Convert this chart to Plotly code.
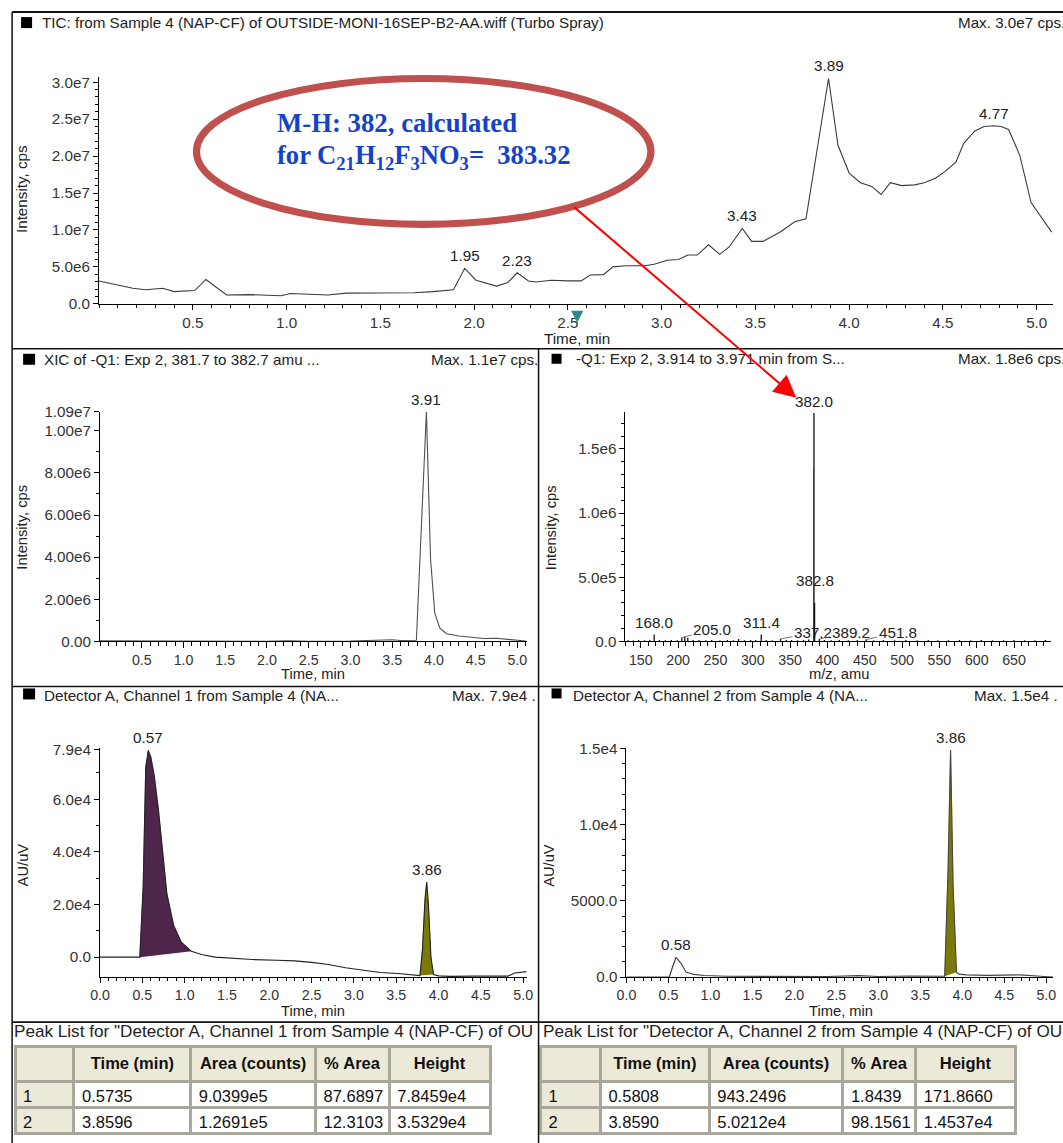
import plotly.graph_objects as go

# Page geometry: the captured page area includes the 8 px body margin, so positions
# below are given in target-picture pixels and mapped onto the figure.
PAGE_W, PAGE_H, OFF = 1063, 1143, 8
SX = (PAGE_W + 2 * OFF) / PAGE_W
SY = (PAGE_H + 2 * OFF) / PAGE_H
K = (SX + SY) / 2            # pixel-size factor
W = round(PAGE_W * SX - OFF)
H = round(PAGE_H * SY - OFF)
def PX(x): return (x * SX - OFF) / W
def PY(y): return 1 - (y * SY - OFF) / H
def clamp(v): return min(1.0, max(0.0, v))
def k(v): return v * K

FONT = "Liberation Sans, Arial, sans-serif"
SERIF = "Liberation Serif, Times New Roman, serif"

# ---------------- data ----------------
# TIC (time, min ; intensity, cps)
tic_time = [0.00, 0.18, 0.25, 0.34, 0.40, 0.51, 0.57, 0.68, 0.80, 0.97, 1.02, 1.13, 1.22, 1.32,
            1.50, 1.68, 1.78, 1.89, 1.95, 2.01, 2.12, 2.18, 2.23, 2.29, 2.33, 2.41, 2.50, 2.57,
            2.62, 2.69, 2.74, 2.81, 2.91, 2.96, 3.03, 3.09, 3.14, 3.19, 3.25, 3.31, 3.36, 3.43,
            3.48, 3.54, 3.63, 3.71, 3.77, 3.89, 3.94, 4.00, 4.06, 4.12, 4.17, 4.22, 4.28, 4.35,
            4.40, 4.46, 4.51, 4.57, 4.61, 4.67, 4.72, 4.77, 4.81, 4.85, 4.91, 4.97, 5.08]
tic_int_e6 = [3.1, 2.1, 1.9, 2.1, 1.65, 1.8, 3.3, 1.2, 1.25, 1.1, 1.4, 1.3, 1.2, 1.45,
              1.45, 1.5, 1.65, 1.9, 4.8, 3.2, 2.4, 2.9, 4.2, 3.1, 2.95, 3.2, 3.1, 3.1,
              3.9, 3.95, 5.0, 5.15, 5.15, 5.35, 5.9, 6.0, 6.6, 6.6, 8.0, 6.7, 7.7, 10.2,
              8.45, 8.45, 9.7, 11.1, 11.5, 30.5, 21.5, 17.7, 16.4, 15.9, 14.8, 16.4, 16.0, 16.1,
              16.4, 17.0, 17.9, 19.2, 21.7, 23.4, 24.0, 24.1, 24.0, 23.6, 20.1, 13.7, 9.7]
tic_int = [v * 1e6 for v in tic_int_e6]
tic_peaks = [1.95, 2.23, 3.43, 3.89, 4.77]
tic_xticks = [0.5, 1.0, 1.5, 2.0, 2.5, 3.0, 3.5, 4.0, 4.5, 5.0]
tic_yticks = [0, 5e6, 1e7, 1.5e7, 2e7, 2.5e7, 3e7]
tic_yticktext = ["0.0", "5.0e6", "1.0e7", "1.5e7", "2.0e7", "2.5e7", "3.0e7"]

# XIC 381.7-382.7
xic_time = [0.0, 0.5, 1.0, 1.5, 2.0, 2.25, 2.5, 3.0, 3.2, 3.5, 3.6, 3.79, 3.91, 3.96, 4.01,
            4.07, 4.15, 4.3, 4.45, 4.6, 4.75, 4.9, 5.1]
xic_int_e6 = [0.03, 0.02, 0.01, 0.01, 0.01, 0.03, 0.01, 0.02, 0.04, 0.08, 0.05, 0.06, 10.9,
              3.9, 1.36, 0.64, 0.37, 0.26, 0.2, 0.14, 0.15, 0.1, 0.02]
xic_int = [v * 1e6 for v in xic_int_e6]
xic_peaks = [3.91]
xic_xticks = [0.5, 1.0, 1.5, 2.0, 2.5, 3.0, 3.5, 4.0, 4.5, 5.0]
xic_yticks = [0, 2e6, 4e6, 6e6, 8e6, 1e7, 1.09e7]
xic_yticktext = ["0.00", "2.00e6", "4.00e6", "6.00e6", "8.00e6", "1.00e7", "1.09e7"]

# Q1 spectrum (centroids)
ms_mz = [133, 140, 147, 155, 162, 168.0, 175, 183, 191, 199, 205.0, 209, 213, 220, 228, 237,
         245, 256, 266, 274, 281, 289, 297, 304, 311.4, 318, 326, 337.2, 345, 352, 360, 368,
         375, 382.0, 382.8, 389.2, 396, 405, 416, 428, 440, 451.8, 462, 475, 490, 505, 520,
         535, 548, 562, 577, 592, 606, 621, 636, 650, 664, 678, 692]
ms_int_e6 = [0.010, 0.008, 0.012, 0.010, 0.012, 0.055, 0.012, 0.010, 0.012, 0.010, 0.030,
             0.035, 0.030, 0.012, 0.012, 0.010, 0.012, 0.010, 0.012, 0.010, 0.020, 0.010,
             0.012, 0.012, 0.055, 0.012, 0.010, 0.020, 0.012, 0.012, 0.010, 0.012, 0.015,
             1.78, 0.30, 0.020, 0.012, 0.010, 0.012, 0.010, 0.012, 0.015, 0.010, 0.012, 0.010,
             0.012, 0.010, 0.012, 0.010, 0.010, 0.012, 0.010, 0.012, 0.010, 0.010, 0.012,
             0.010, 0.010, 0.012]
ms_int = [v * 1e6 for v in ms_int_e6]
ms_profile_mz = [381.6]
ms_profile_int = [1.35e6]
ms_labels = [382.0, 382.8, 168.0, 205.0, 311.4, 337.2, 389.2, 451.8]
ms_xticks = [150, 200, 250, 300, 350, 400, 450, 500, 550, 600, 650]
ms_yticks = [0, 5e5, 1e6, 1.5e6]
ms_yticktext = ["0.0", "5.0e5", "1.0e6", "1.5e6"]

# Detector A channel 1
ch1_time = [0.00, 0.20, 0.40, 0.47, 0.51, 0.54, 0.57, 0.60, 0.64, 0.69, 0.74, 0.79, 0.87, 0.96,
            1.08, 1.20, 1.36, 1.60, 1.80, 2.09, 2.30, 2.50, 2.70, 2.90, 3.10, 3.31, 3.52,
            3.70, 3.78, 3.81, 3.84, 3.86, 3.88, 3.91, 3.94, 4.00, 4.13, 4.40, 4.60, 4.82,
            4.90, 5.04]
ch1_au_e4 = [0.0, 0.0, 0.0, 0.0, 2.7, 7.2, 7.85, 7.6, 6.9, 5.6, 4.0, 2.4, 1.2, 0.57,
             0.22, 0.10, 0.0, -0.05, -0.09, -0.12, -0.14, -0.20, -0.28, -0.40, -0.50, -0.58, -0.62,
             -0.68, -0.70, 0.30, 2.2, 2.85, 2.0, 0.0, -0.66, -0.71, -0.73, -0.72, -0.72, -0.72,
             -0.60, -0.55]
ch1_au = [v * 1e4 for v in ch1_au_e4]
ch1_peaks = [0.57, 3.86]
ch1_fill_ranges = [(0.47, 1.08), (3.78, 3.94)]
ch1_xticks = [0.0, 0.5, 1.0, 1.5, 2.0, 2.5, 3.0, 3.5, 4.0, 4.5, 5.0]
ch1_yticks = [0, 2e4, 4e4, 6e4, 7.9e4]
ch1_yticktext = ["0.0", "2.0e4", "4.0e4", "6.0e4", "7.9e4"]

# Detector A channel 2
ch2_time = [0.0, 0.30, 0.51, 0.55, 0.59, 0.65, 0.71, 0.80, 0.93, 1.20, 1.60, 2.00, 2.40, 2.77,
            3.00, 3.37, 3.60, 3.79, 3.83, 3.86, 3.89, 3.93, 3.96, 4.05, 4.30, 4.69, 4.93, 5.08]
ch2_au = [0, 0, 0, 700, 1300, 900, 330, 180, 110, 60, 40, 40, 40, 100,
          40, 80, 60, 60, 7000, 14900, 6000, 330, 200, 150, 120, 150, 60, 0]
ch2_peaks = [0.59, 3.86]
ch2_peak_text = ["0.58", "3.86"]
ch2_fill_ranges = [(0.51, 0.59), (3.79, 3.93)]
ch2_xticks = [0.0, 0.5, 1.0, 1.5, 2.0, 2.5, 3.0, 3.5, 4.0, 4.5, 5.0]
ch2_yticks = [0, 5000, 1e4, 1.5e4]
ch2_yticktext = ["0.0", "5000.0", "1.0e4", "1.5e4"]

# Peak tables
tbl_header = ["", "Time (min)", "Area (counts)", "% Area", "Height"]
tbl1_rows = [["1", "0.5735", "9.0399e5", "87.6897", "7.8459e4"],
             ["2", "3.8596", "1.2691e5", "12.3103", "3.5329e4"]]
tbl2_rows = [["1", "0.5808", "943.2496", "1.8439", "171.8660"],
             ["2", "3.8590", "5.0212e4", "98.1561", "1.4537e4"]]

# ---------------- figure ----------------
LINE = "#3a3a3a"
PURPLE = "#4f264b"
OLIVE = "#7b7a08"
FS = k(15)
FX = k(14)
fig = go.Figure()

def line_trace(x, y, xa, ya, color=LINE, width=1.1):
    fig.add_trace(go.Scatter(x=x, y=y, mode="lines", xaxis=xa, yaxis=ya,
                             line=dict(color=color, width=width), hoverinfo="skip",
                             showlegend=False))

def fill_trace(x, y, lo, hi, xa, ya, color):
    xs = [t for t in x if lo - 1e-9 <= t <= hi + 1e-9]
    ys = [v for t, v in zip(x, y) if lo - 1e-9 <= t <= hi + 1e-9]
    fig.add_trace(go.Scatter(x=xs, y=ys, mode="lines", fill="toself", fillcolor=color,
                             line=dict(color=color, width=0.5), xaxis=xa, yaxis=ya,
                             hoverinfo="skip", showlegend=False))

def stems(xs, ys):
    X, Y = [], []
    for a, b in zip(xs, ys):
        X += [a, a, None]
        Y += [0, b, None]
    return X, Y

line_trace(tic_time, tic_int, "x", "y")
line_trace(xic_time, xic_int, "x2", "y2", color="#505050")
sx, sy = stems(ms_profile_mz, ms_profile_int)
line_trace(sx, sy, "x3", "y3", color="#9a9a9a", width=1)
sx, sy = stems(ms_mz, ms_int)
line_trace(sx, sy, "x3", "y3", color="#111111", width=1.3)
for lo, hi in ch1_fill_ranges:
    fill_trace(ch1_time, ch1_au, lo, hi, "x4", "y4", PURPLE if lo < 2 else OLIVE)
line_trace(ch1_time, ch1_au, "x4", "y4", color="#222222")
for lo, hi in ch2_fill_ranges:
    fill_trace(ch2_time, ch2_au, lo, hi, "x5", "y5", PURPLE if lo < 2 else OLIVE)
line_trace(ch2_time, ch2_au, "x5", "y5", color="#444444")

NBSP = "\u00a0"
def add_table(rows, x0, x1, widths):
    cols = list(map(list, zip(*rows)))
    fills = [["#ece9d8"] * len(rows)] + [["white"] * len(rows)] * (len(cols) - 1)
    fig.add_trace(go.Table(
        domain=dict(x=[clamp(PX(x0)), clamp(PX(x1))], y=[clamp(PY(1136)), clamp(PY(1046))]),
        columnwidth=widths,
        header=dict(values=["<b>%s</b>" % h.replace(" ", NBSP) if h else NBSP for h in tbl_header],
                    fill_color="#ece9d8", line=dict(color="#a9a79b", width=3),
                    align="center", height=k(34),
                    font=dict(family=FONT, size=k(16.3), color="#111")),
        cells=dict(values=cols, fill_color=fills, line=dict(color="#a9a79b", width=3),
                   align="left", height=k(26), font=dict(family=FONT, size=k(16.3), color="#111"))))

add_table(tbl1_rows, 13, 489, [59, 117, 125, 74, 101])
add_table(tbl2_rows, 539, 1015, [60, 109, 134, 73, 100])

# ---------------- axes ----------------
def axis_common(tickvals, ticktext, minor_dtick, size):
    return dict(showline=True, linecolor="black", linewidth=1, mirror=False,
                ticks="outside", ticklen=k(5), tickwidth=1, tickcolor="black",
                tickmode="array", tickvals=tickvals, ticktext=ticktext,
                tickfont=dict(family=FONT, size=size, color="#333"),
                minor=dict(ticks="outside", ticklen=k(3), tickwidth=1, tickcolor="black",
                           tickmode="linear", tick0=0, dtick=minor_dtick, showgrid=False),
                showgrid=False, zeroline=False, fixedrange=True)

def xaxis(x0, x1, rng, anchor, tv, tt, md, size=FX):
    d = axis_common(tv, tt, md, size)
    d.update(domain=[clamp(PX(x0)), clamp(PX(x1))], range=rng, anchor=anchor)
    return d

def yaxis(ybot, ytop, rng, anchor, tv, tt, md, size=FS):
    d = axis_common(tv, tt, md, size)
    d.update(domain=[clamp(PY(ybot)), clamp(PY(ytop))], range=rng, anchor=anchor)
    return d

fmt1 = lambda v: "%.1f" % v
fig.update_layout(
    xaxis=xaxis(97, 1052, [0, 5.087], "y", tic_xticks, [fmt1(v) for v in tic_xticks], 0.1, FS),
    yaxis=yaxis(303, 76, [0, 3.07e7], "x", tic_yticks, tic_yticktext, 1e6),
    xaxis2=xaxis(98, 525, [0, 5.11], "y2", xic_xticks, [fmt1(v) for v in xic_xticks], 0.1),
    yaxis2=yaxis(641, 411, [0, 1.09e7], "x2", xic_yticks, xic_yticktext, 1e6),
    xaxis3=xaxis(624, 1050, [129.5, 699.5], "y3", ms_xticks, [str(v) for v in ms_xticks], 10),
    yaxis3=yaxis(641, 411, [0, 1.79e6], "x3", ms_yticks, ms_yticktext, 1e5),
    xaxis4=xaxis(98, 525, [0, 5.04], "y4", ch1_xticks, [fmt1(v) for v in ch1_xticks], 0.1),
    yaxis4=yaxis(977, 748, [-0.76e4, 7.93e4], "x4", ch1_yticks, ch1_yticktext, 1e4),
    xaxis5=xaxis(625, 1052, [0, 5.08], "y5", ch2_xticks, [fmt1(v) for v in ch2_xticks], 0.1),
    yaxis5=yaxis(977, 748, [0, 1.5e4], "x5", ch2_yticks, ch2_yticktext, 1000),
)

# ---------------- annotations ----------------
ann = []
def text(x, y, s, size=FS, xanchor="left", yanchor="middle", angle=0, color="#222", family=FONT):
    ann.append(dict(x=PX(x), y=PY(y), xref="paper", yref="paper", text=s, showarrow=False,
                    xanchor=xanchor, yanchor=yanchor, textangle=angle,
                    font=dict(family=family, size=size, color=color)))

# panel titles
text(38, 21, "TIC: from Sample 4 (NAP-CF) of OUTSIDE-MONI-16SEP-B2-AA.wiff (Turbo Spray)")
text(1066, 21, "Max. 3.0e7 cps.", xanchor="right")
text(40, 359, "XIC of -Q1: Exp 2, 381.7 to 382.7 amu ...")
text(538, 359, "Max. 1.1e7 cps.", xanchor="right")
text(572, 358, "-Q1: Exp 2, 3.914 to 3.971 min from S...")
text(1066, 358, "Max. 1.8e6 cps.", xanchor="right")
text(40, 695, "Detector A, Channel 1 from Sample 4 (NA...")
text(536, 695, "Max. 7.9e4 .", xanchor="right")
text(569, 695, "Detector A, Channel 2 from Sample 4 (NA...")
text(1059, 695, "Max. 1.5e4 .", xanchor="right")
text(10, 1031, 'Peak List for "Detector A, Channel 1 from Sample 4 (NAP-CF) of OU', size=k(16.9))
text(539, 1031, 'Peak List for "Detector A, Channel 2 from Sample 4 (NAP-CF) of OU', size=k(16.9))

# axis titles
text(20, 188, "Intensity, cps", angle=-90, xanchor="center")
text(575, 338, "Time, min", xanchor="center")
text(19, 527, "Intensity, cps", angle=-90, xanchor="center", size=k(14.5))
text(311, 674, "Time, min", xanchor="center", size=k(14.5))
text(549, 527, "Intensity, cps", angle=-90, xanchor="center", size=k(14.5))
text(838, 674, "m/z, amu", xanchor="center", size=k(14.5))
text(21, 865, "AU/uV", angle=-90, xanchor="center", size=k(14.5))
text(311, 1011, "Time, min", xanchor="center", size=k(14.5))
text(548, 865, "AU/uV", angle=-90, xanchor="center", size=k(14.5))
text(840, 1011, "Time, min", xanchor="center", size=k(14.5))

def peak_label(x, y, s, xa, ya, yshift=2, ax=None, ay=None):
    d = dict(x=x, y=y, xref=xa, yref=ya, text=s, font=dict(family=FONT, size=FS, color="#222"))
    if ax is None:
        d.update(showarrow=False, yanchor="bottom", yshift=k(yshift))
    else:
        d.update(showarrow=True, ax=k(ax), ay=k(ay), arrowhead=0, arrowwidth=0.8,
                 arrowcolor="#555", standoff=0, startstandoff=0)
    ann.append(d)

for t in tic_peaks:
    peak_label(t, tic_int[tic_time.index(t)], "%.2f" % t, "x", "y")
for t in xic_peaks:
    peak_label(t, xic_int[xic_time.index(t)], "%.2f" % t, "x2", "y2")
for t in ch1_peaks:
    peak_label(t, ch1_au[ch1_time.index(t)], "%.2f" % t, "x4", "y4")
for t, s in zip(ch2_peaks, ch2_peak_text):
    peak_label(t, ch2_au[ch2_time.index(t)], s, "x5", "y5")

ms_label_style = {382.0: None, 382.8: 12, 168.0: None, 311.4: None,
                  205.0: (30, -8), 337.2: (32, -6), 389.2: (31, -6), 451.8: (31, -7)}
for m in ms_labels:
    v = ms_int[ms_mz.index(m)]
    st = ms_label_style[m]
    if isinstance(st, tuple):
        peak_label(m, v, "%.1f" % m, "x3", "y3", ax=st[0], ay=st[1])
    else:
        peak_label(m, v, "%.1f" % m, "x3", "y3", yshift=st if st else 1)

# ellipse callout text
BLUE = "#1442c8"
text(273, 122, "<b>M-H: 382, calculated</b>", size=k(26.4), family=SERIF, color=BLUE)
text(273, 156, "<b>for C<sub>21</sub>H<sub>12</sub>F<sub>3</sub>NO<sub>3</sub>= &nbsp;383.32</b>",
     size=k(26.2), family=SERIF, color=BLUE)

# red arrow from ellipse to the 382.0 ion
ann.append(dict(x=PX(795), y=PY(397), xref="paper", yref="paper",
                ax=(575 - 795) * SX, ay=(208 - 397) * SY,
                axref="pixel", ayref="pixel", showarrow=True, text="", arrowcolor="#ff0000",
                arrowwidth=k(2), arrowhead=2, arrowsize=2.2, standoff=0))
# teal marker below the 2.5 tick
ann.append(dict(x=2.55, y=PY(322), xref="x", yref="paper", ax=0, ay=k(-11), showarrow=True,
                text="", arrowcolor="#2b8a8a", arrowwidth=k(3), arrowhead=2, arrowsize=0.8))

fig.update_layout(annotations=ann)

# ---------------- shapes ----------------
shapes = []
def seg(x0, y0, x1, y1, w=1.5, c="#111"):
    shapes.append(dict(type="line", xref="paper", yref="paper", x0=PX(x0), y0=PY(y0),
                       x1=PX(x1), y1=PY(y1), line=dict(color=c, width=k(w))))
def box(x0, y0, x1, y1, c="#000"):
    shapes.append(dict(type="rect", xref="paper", yref="paper", x0=PX(x0), y0=PY(y0),
                       x1=PX(x1), y1=PY(y1), fillcolor=c, line=dict(width=0)))

seg(10, 11, 1066, 11, 2)
seg(10, 11, 10, 1146, 1.5)
seg(10, 348, 1066, 348, 1.5)
seg(537, 348, 537, 1146, 1.5)
seg(10, 686, 1066, 686, 1.5)
seg(10, 1022, 1066, 1022, 1.5)
box(19, 16, 30, 27)
box(21, 353, 33, 364)
box(550, 353, 560, 363)
box(21, 688, 33, 699)
box(550, 688, 560, 698)
shapes.append(dict(type="circle", xref="paper", yref="paper", x0=PX(194.5), x1=PX(649.5),
                   y0=PY(223.5), y1=PY(77.5), line=dict(color="#c0504d", width=k(7)),
                   fillcolor="rgba(0,0,0,0)"))
# blue start-of-trace markers at each origin
tri = "M %.1f %.1f L 0 0 L %.1f %.1f Z" % (k(-8), k(-5), k(-8), k(5))
for xa, ya, x0 in [("x", "y", 0), ("x2", "y2", 0), ("x3", "y3", 129.5), ("x4", "y4", 0), ("x5", "y5", 0)]:
    shapes.append(dict(type="path", xref=xa, yref=ya, xsizemode="pixel", ysizemode="pixel",
                       xanchor=x0, yanchor=0, path=tri,
                       fillcolor="#0000ff", line=dict(width=0), layer="above"))
fig.update_layout(shapes=shapes)

fig.update_layout(width=W, height=H, margin=dict(l=0, r=0, t=0, b=0),
                  paper_bgcolor="white", plot_bgcolor="white", showlegend=False,
                  hovermode=False)
fig.write_html("out.html", config={"displayModeBar": False})
